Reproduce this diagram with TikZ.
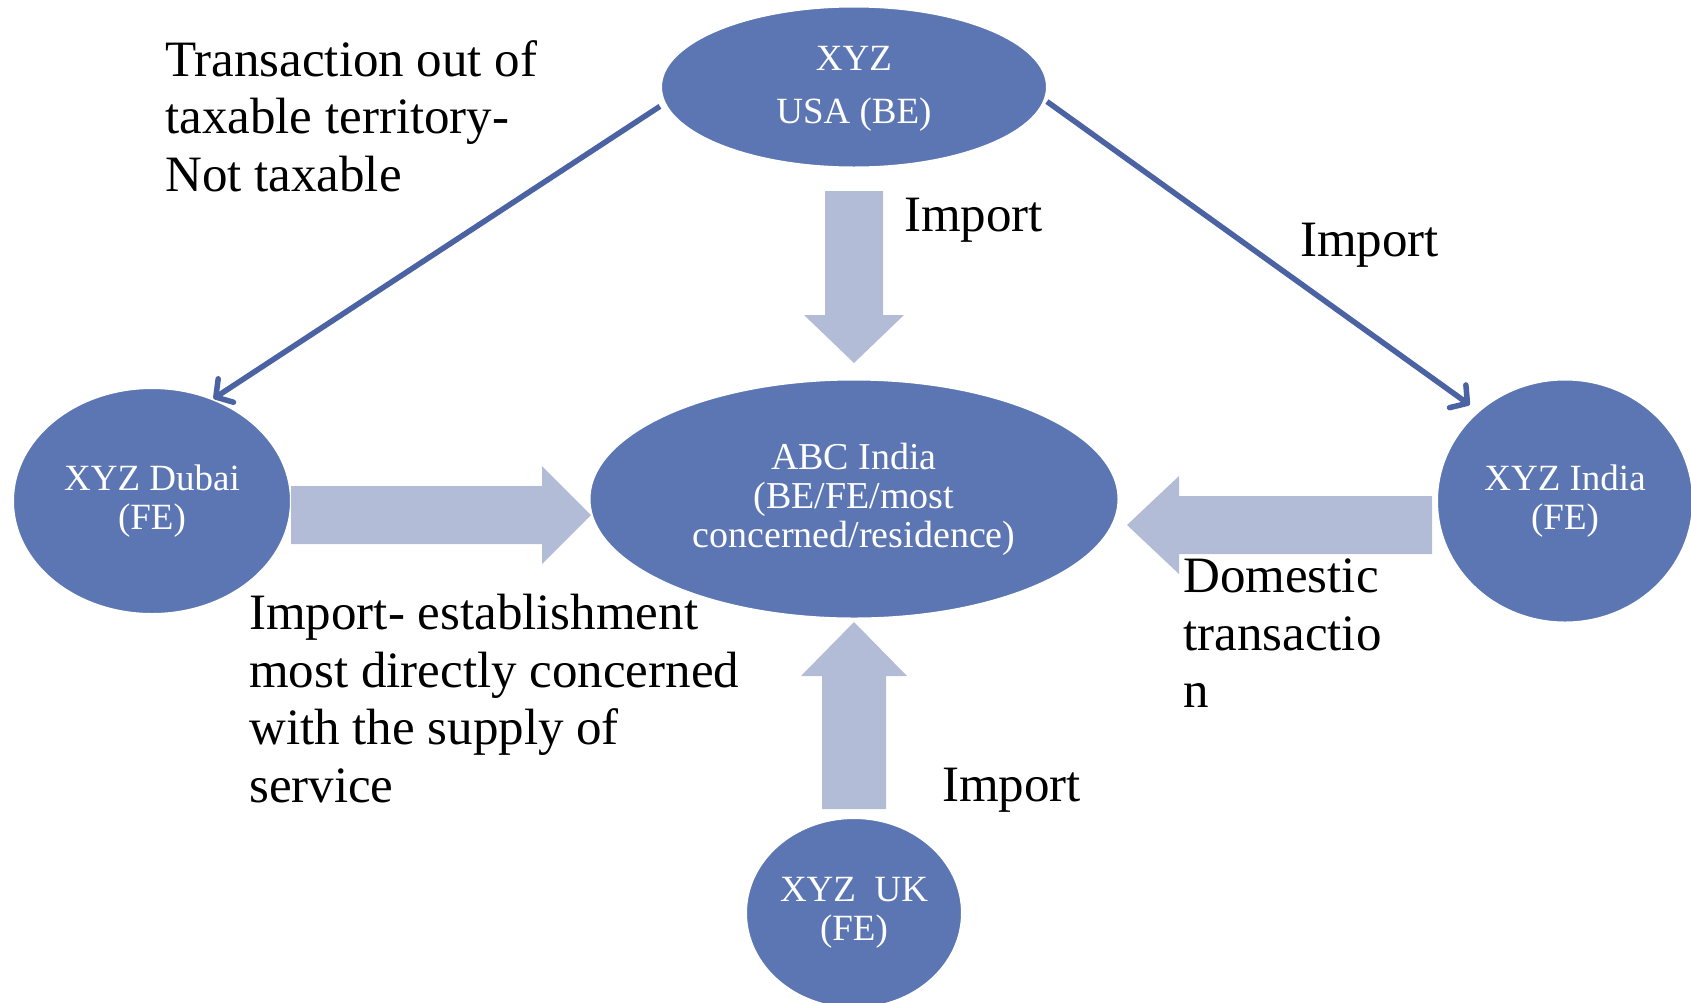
\documentclass[tikz,border=0pt]{standalone}
\usepackage{fontspec}
\setmainfont{Liberation Serif}
\usetikzlibrary{arrows.meta,shapes.geometric}

\definecolor{nodeblue}{HTML}{5C76B4}
\definecolor{blockblue}{HTML}{B3BCD6}
\definecolor{lineblue}{HTML}{4B63A3}

\begin{document}
\begin{tikzpicture}[x=1pt,y=-1pt,
  party/.style={ellipse, fill=nodeblue, draw=white, line width=2pt,
    text=white, align=center, inner sep=0pt,
    font=\fontsize{37}{39}\selectfont},
  lbl/.style={inner sep=0pt, align=left, text=black,
    font=\fontsize{51}{57.5}\selectfont},
  flow/.style={draw=lineblue, line width=5.5pt,
    -{Straight Barb[length=12pt,width=28pt,round]}},
  block/.style={fill=blockblue, draw=none}
]
\useasboundingbox (0,0) rectangle (1691,1002);

% entities
\node[party, minimum width=386pt, minimum height=161pt] (usa) at (854,87)
  {\strut XYZ\\[14pt]USA (BE)};
\node[party, minimum width=529pt, minimum height=239pt, font=\fontsize{38}{39}\selectfont]
  (abc) at (854,499)
  {ABC India\\(BE/FE/most\\concerned/residence)};
\node[party, minimum width=278pt, minimum height=226pt] (dubai) at (152,501)
  {XYZ Dubai\\(FE)};
\node[party, minimum width=256pt, minimum height=243pt] (india) at (1565,501)
  {XYZ India\\(FE)};
\node[party, minimum width=216pt, minimum height=190pt] (uk) at (854,913)
  {XYZ\enspace UK\\(FE)};

% thin connectors from the back end
\draw[flow, shorten <=5pt] (usa.185) -- (dubai.59);
\draw[flow, shorten <=2pt, shorten >=10pt] (usa.-4.5) -- (india.134);

% block arrows into ABC India
\path[block] (825,191) -- (883,191) -- (883,315) -- (904,315) -- (854,363)
  -- (804,315) -- (825,315) -- cycle;
\path[block] (291,486) -- (542,486) -- (542,466) -- (591,515) -- (542,564)
  -- (542,544) -- (291,544) -- cycle;
\path[block] (1432,496) -- (1179,496) -- (1179,476) -- (1127,525)
  -- (1179,574) -- (1179,554) -- (1432,554) -- cycle;
\path[block] (822,809) -- (822,676) -- (801,676) -- (854,622) -- (907,676)
  -- (886,676) -- (886,809) -- cycle;

% labels
\node[lbl, anchor=north west] (outside) at (165,40)
  {Transaction out of\\taxable territory-\\Not taxable};
\node[lbl, anchor=base west] (impTop) at (904,231) {Import};
\node[lbl, anchor=base west] (impRight) at (1300,256) {Import};
\node[lbl, anchor=base west] (impBottom) at (942,801) {Import};
\node[lbl, anchor=north west] (estab) at (249,594)
  {Import- establishment\\most directly concerned\\with the supply of\\service};
\node[lbl, anchor=north west] (domestic) at (1183,559)
  {Domestic\\transactio\\n};
\end{tikzpicture}
\end{document}
